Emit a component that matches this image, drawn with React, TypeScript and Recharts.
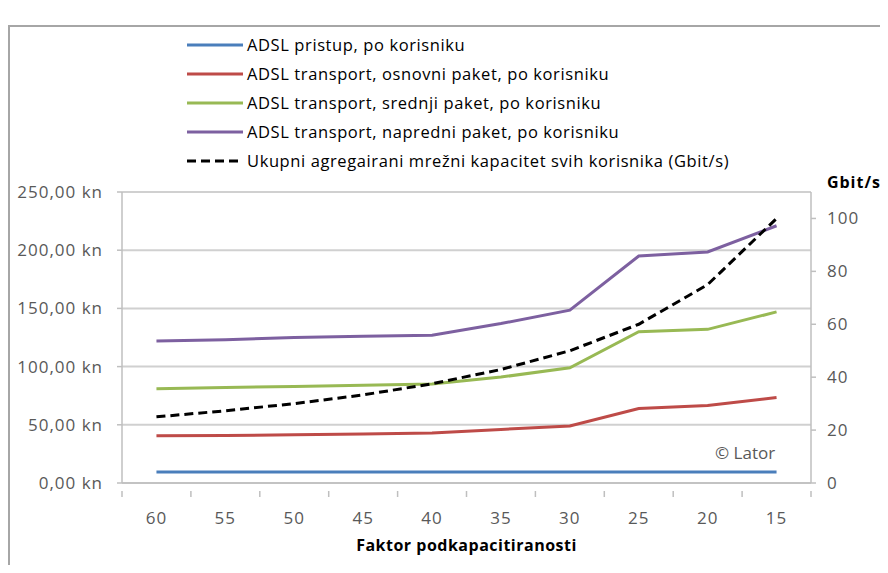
import {
  LineChart,
  Line,
  XAxis,
  YAxis,
  CartesianGrid,
  Legend,
} from 'recharts';

const factors = ['60', '55', '50', '45', '40', '35', '30', '25', '20', '15'];

const adslAccess = [9.5, 9.5, 9.5, 9.5, 9.5, 9.5, 9.5, 9.5, 9.5, 9.5];
const basicTransport = [40.5, 40.8, 41.5, 42, 43, 46, 49, 64, 66.5, 73.5];
const midTransport = [81, 82, 83, 84, 85, 91, 99, 130, 132, 147];
const advancedTransport = [122, 123, 125, 126, 127, 137, 148.5, 195, 198.5, 221];
const totalCapacity = [25, 27.3, 30, 33.3, 37.5, 42.9, 50, 60, 75, 100];

const leftTicks = [0, 50, 100, 150, 200, 250];
const rightTicks = [0, 20, 40, 60, 80, 100];

const seriesNames = [
  'ADSL pristup, po korisniku',
  'ADSL transport, osnovni paket, po korisniku',
  'ADSL transport, srednji paket, po korisniku',
  'ADSL transport, napredni paket, po korisniku',
  'Ukupni agregairani mrežni kapacitet svih korisnika (Gbit/s)',
];

const data = factors.map((f, i) => ({
  factor: f,
  access: adslAccess[i],
  basic: basicTransport[i],
  mid: midTransport[i],
  advanced: advancedTransport[i],
  total: totalCapacity[i],
}));

const WIDTH = 872;
const HEIGHT = 557;
const LEFT_AXIS_W = 114;
const RIGHT_AXIS_W = 69;
const PLOT_W = WIDTH - LEFT_AXIS_W - RIGHT_AXIS_W;
const BAND = PLOT_W / factors.length;

const FONT = '"Open Sans", sans-serif';
const TICK_COLOR = '#595959';
const AXIS_COLOR = '#bfbfbf';

function formatKn(v: number) {
  return v.toFixed(2).replace('.', ',') + ' kn';
}

// category ticks sit between the points, like Excel
function XTick(props: any) {
  const { x, y, payload, index } = props;
  const last = index === factors.length - 1;
  return (
    <g>
      <line x1={x - BAND / 2} x2={x - BAND / 2} y1={y} y2={y + 6} stroke={AXIS_COLOR} strokeWidth={1.5} />
      {last && (
        <line x1={x + BAND / 2} x2={x + BAND / 2} y1={y} y2={y + 6} stroke={AXIS_COLOR} strokeWidth={1.5} />
      )}
      <text
        x={x}
        y={y + 33}
        textAnchor="middle"
        fill={TICK_COLOR}
        fontSize={17}
        letterSpacing={1}
        fontFamily={FONT}
      >
        {payload.value}
      </text>
    </g>
  );
}

function LegendBox(props: any) {
  const { payload } = props;
  return (
    <div style={{ fontFamily: FONT, fontSize: 16.5, letterSpacing: 0.6, color: '#000', textAlign: 'left' }}>
      {payload.map((entry: any) => (
        <div
          key={entry.value}
          style={{ display: 'flex', alignItems: 'center', height: 29 }}
        >
          <svg width={58} height={6} style={{ marginRight: 2 }}>
            <line
              x1={0}
              x2={56}
              y1={3}
              y2={3}
              stroke={entry.color}
              strokeWidth={3}
              strokeDasharray={entry.payload.strokeDasharray}
            />
          </svg>
          <span style={{ whiteSpace: 'nowrap' }}>{entry.value}</span>
        </div>
      ))}
    </div>
  );
}

export default function App() {
  return (
    <div
      style={{
        position: 'relative',
        width: WIDTH,
        height: HEIGHT,
        overflow: 'hidden',
        background: '#fff',
      }}
    >
      <div
        style={{
          position: 'absolute',
          left: 0,
          top: 17,
          width: WIDTH,
          height: HEIGHT,
          borderLeft: '2px solid #a6a6a6',
          borderTop: '2px solid #a6a6a6',
        }}
      />

      <LineChart
        width={WIDTH}
        height={HEIGHT}
        data={data}
        margin={{ top: 184, right: 0, left: 0, bottom: 0 }}
      >
        <CartesianGrid
          yAxisId="left"
          vertical={false}
          stroke="#d0d0d0"
          strokeWidth={2}
        />

        <XAxis
          dataKey="factor"
          scale="band"
          height={82}
          stroke={AXIS_COLOR}
          strokeWidth={1.5}
          tickLine={false}
          tick={<XTick />}
          interval={0}
          label={{
            value: 'Faktor podkapacitiranosti',
            position: 'insideBottom',
            offset: 14,
            fill: '#000',
            fontSize: 16,
            letterSpacing: 0.5,
            fontWeight: 'bold',
            fontFamily: FONT,
          }}
        />

        <YAxis
          yAxisId="left"
          width={LEFT_AXIS_W}
          domain={[0, 250]}
          ticks={leftTicks}
          tickFormatter={formatKn}
          stroke={AXIS_COLOR}
          strokeWidth={1.5}
          tickSize={5}
          tickMargin={14}
          tick={{ fill: TICK_COLOR, fontSize: 17, letterSpacing: 1, fontFamily: FONT }}
        />

        <YAxis
          yAxisId="right"
          orientation="right"
          width={RIGHT_AXIS_W}
          domain={[0, 110]}
          ticks={rightTicks}
          stroke={AXIS_COLOR}
          strokeWidth={1.5}
          tickSize={5}
          tickMargin={11}
          tick={{ fill: TICK_COLOR, fontSize: 17, letterSpacing: 1, fontFamily: FONT, textAnchor: 'start' }}
          label={{
            value: 'Gbit/s',
            position: 'insideTopRight',
            dx: 6,
            dy: -20,
            fill: '#000',
            fontSize: 16,
            letterSpacing: 1,
            fontWeight: 'bold',
            fontFamily: FONT,
          }}
        />

        <Legend
          verticalAlign="middle"
          align="center"
          layout="vertical"
          itemSorter={(item: any) => seriesNames.indexOf(item.value)}
          content={<LegendBox />}
          wrapperStyle={{ top: 22, left: 179, width: 640 }}
        />

        <Line
          yAxisId="left"
          dataKey="access"
          name={seriesNames[0]}
          stroke="#4a7ebb"
          strokeWidth={3}
          dot={false}
          isAnimationActive={false}
        />
        <Line
          yAxisId="left"
          dataKey="basic"
          name={seriesNames[1]}
          stroke="#be4b48"
          strokeWidth={3}
          dot={false}
          isAnimationActive={false}
        />
        <Line
          yAxisId="left"
          dataKey="mid"
          name={seriesNames[2]}
          stroke="#98b954"
          strokeWidth={3}
          dot={false}
          isAnimationActive={false}
        />
        <Line
          yAxisId="left"
          dataKey="advanced"
          name={seriesNames[3]}
          stroke="#7d60a0"
          strokeWidth={3}
          dot={false}
          isAnimationActive={false}
        />
        <Line
          yAxisId="right"
          dataKey="total"
          name={seriesNames[4]}
          stroke="#000"
          strokeWidth={3}
          strokeDasharray="9 5"
          dot={false}
          isAnimationActive={false}
        />
      </LineChart>

      <div
        style={{
          position: 'absolute',
          left: 707,
          top: 433,
          fontFamily: FONT,
          fontSize: 17,
          color: TICK_COLOR,
        }}
      >
        © Lator
      </div>
    </div>
  );
}
